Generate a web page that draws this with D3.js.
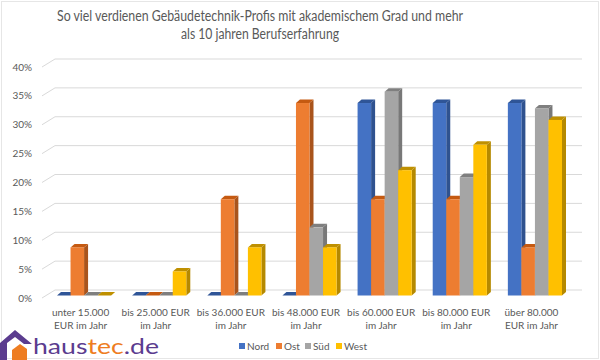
<!DOCTYPE html>
<html><head><meta charset="utf-8">
<script src="https://cdn.jsdelivr.net/npm/d3@7"></script>
<style>
html,body{margin:0;padding:0;background:#fff;}
svg{display:block;font-family:Lato,"Open Sans",sans-serif;}
</style></head>
<body>
<svg id="chart" width="600" height="360"></svg>
<script>
const categories = [["unter 15.000","EUR im Jahr"],["bis 25.000 EUR","im Jahr"],["bis 36.000 EUR","im Jahr"],["bis 48.000 EUR","im Jahr"],["bis 60.000 EUR","im Jahr"],["bis 80.000 EUR","im Jahr"],["über 80.000","EUR im Jahr"]];
const seriesNames = ["Nord","Ost","Süd","West"];
const nord = [0,0,0,0,33.33,33.33,33.33];
const ost  = [8.33,0,16.67,33.33,16.67,16.67,8.33];
const sued = [0,0,0,11.8,35.3,20.5,32.4];
const west = [0,4.17,8.33,8.33,21.7,26.1,30.4];
const yTicks = [0,5,10,15,20,25,30,35,40];
const titleLines = ["So viel verdienen Gebäudetechnik-Profis mit akademischem Grad und mehr","als 10 jahren Berufserfahrung"];

const seriesValues = [nord, ost, sued, west];
const front = ["#4472C4","#ED7D31","#A5A5A5","#FFC000"];
const topC  = ["#2F5597","#C55A11","#7F7F7F","#BF9000"];
const sideC = ["#2F528F","#A9541C","#787878","#B58900"];

const svg = d3.select("#chart");
svg.append("rect").attr("x",1.5).attr("y",1.5).attr("width",597).attr("height",357)
  .attr("fill","none").attr("stroke","#e6e6e6");

const X0 = 43, X1 = 569, DX = 13, DY = -8;
const x = d3.scaleBand().domain(d3.range(categories.length)).range([X0, X1]).padding(0);
const y = d3.scaleLinear().domain([0,40]).range([298, 67]);
const xi = d3.scaleBand().domain(d3.range(4)).range([10, x.bandwidth()-11]).padding(0);

// gridlines (left wall slant + back wall)
const g = svg.append("g");
yTicks.forEach(t=>{
  const yy = y(t);
  g.append("path").attr("d",`M${X0-1},${yy}L${X0-1+DX},${yy+DY}L${X1+DX},${yy+DY}`)
    .attr("fill","none").attr("stroke","#d9d9d9").attr("stroke-width",1);
  g.append("text").attr("x",32).attr("y",yy+3.5).attr("text-anchor","end")
    .attr("font-size",10).attr("fill","#595959").text(t+"%");
});

// bars
const bdx = 4, bdy = -3.5, offX = 4, offY = -2.5;
const base = y(0) + offY;
const bars = svg.append("g");
categories.forEach((c,ci)=>{
  seriesValues.forEach((vals,si)=>{
    const v = vals[ci];
    const xa = x(ci) + xi(si) + offX, xb = xa + xi.bandwidth();
    const yt = y(v) + offY;
    bars.append("path").attr("d",`M${xb},${yt}L${xb+bdx},${yt+bdy}L${xb+bdx},${base+bdy}L${xb},${base}Z`).attr("fill",sideC[si]);
    bars.append("path").attr("d",`M${xa},${yt}L${xa+bdx},${yt+bdy}L${xb+bdx},${yt+bdy}L${xb},${yt}Z`).attr("fill",topC[si]);
    if (v>0) bars.append("rect").attr("x",xa).attr("y",yt).attr("width",xb-xa).attr("height",base-yt).attr("fill",front[si]);
  });
  const cx = x(ci) + x.bandwidth()/2;
  c.forEach((line,li)=>{
    svg.append("text").attr("x",cx).attr("y",315.5+li*13.5).attr("text-anchor","middle")
      .attr("font-size",10).attr("fill","#595959").text(line);
  });
});

// title
titleLines.forEach((t,i)=>{
  const el = svg.append("text").attr("x",260).attr("y",21+i*18).attr("text-anchor","middle")
    .attr("font-size",14.5).attr("fill","#595959").text(t);
  const target = i===0 ? 406 : 158;
  const w = el.node().getComputedTextLength();
  if (w > target) el.attr("textLength",target).attr("lengthAdjust","spacingAndGlyphs");
});

// legend
const legX = [239,276,305,336];
seriesNames.forEach((n,i)=>{
  svg.append("rect").attr("x",legX[i]).attr("y",343).attr("width",6).attr("height",6).attr("fill",front[i]);
  svg.append("text").attr("x",legX[i]+8).attr("y",349.5).attr("font-size",10).attr("fill","#595959").text(n);
});

// logo
const logo = svg.append("g");
logo.append("path").attr("d","M0,360L0,343L15,330L32,344L24,344L15,337L7,343L7,360Z").attr("fill","#5B3C8F");
logo.append("path").attr("d","M12,360L12,350L20,344L27,349L27,360Z").attr("fill","#EE7D22");
const lt = logo.append("text").attr("x",33).attr("y",354).attr("font-size",22).attr("font-family","Lato,'Open Sans',sans-serif");
lt.append("tspan").attr("fill","#5B3C8F").text("haus");
lt.append("tspan").attr("fill","#EE7D22").text("tec");
lt.append("tspan").attr("fill","#5B3C8F").text(".de");
lt.attr("textLength",126).attr("lengthAdjust","spacingAndGlyphs");
</script>
</body></html>
